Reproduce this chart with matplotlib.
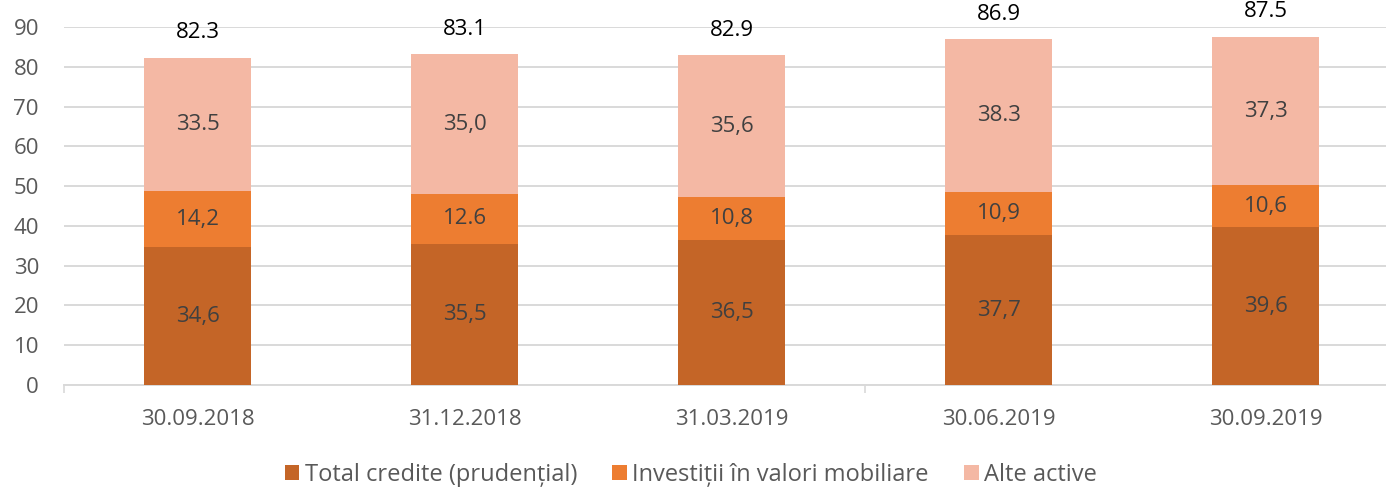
import matplotlib.pyplot as plt
import numpy as np

# datele din grafic
perioade = ["30.09.2018", "31.12.2018", "31.03.2019", "30.06.2019", "30.09.2019"]
credite = [34.6, 35.5, 36.5, 37.7, 39.6]
investitii = [14.2, 12.6, 10.8, 10.9, 10.6]
alte_active = [33.5, 35.0, 35.6, 38.3, 37.3]
total = [82.3, 83.1, 82.9, 86.9, 87.5]

# etichetele asa cum apar in original (separatori amestecati)
et_credite = ["34,6", "35,5", "36,5", "37,7", "39,6"]
et_investitii = ["14,2", "12.6", "10,8", "10,9", "10,6"]
et_alte = ["33.5", "35,0", "35,6", "38.3", "37,3"]
et_total = ["82.3", "83.1", "82.9", "86.9", "87.5"]

serii = ["Total credite (prudențial)", "Investiții în valori mobiliare", "Alte active"]
culori = ["#C46527", "#ED7D31", "#F4B8A4"]

plt.rcParams['font.family'] = ['Open Sans', 'DejaVu Sans']

fig = plt.figure(figsize=(13.86, 4.88), dpi=100)
ax = fig.add_axes([64 / 1386, 1 - 385 / 488, (1386 - 64) / 1386, (385 - 27) / 488])

x = np.arange(len(perioade))
w = 0.4
jos = np.zeros(len(perioade))
for vals, etich, culoare, nume in zip([credite, investitii, alte_active],
                                      [et_credite, et_investitii, et_alte], culori, serii):
    bare = ax.bar(x, vals, w, bottom=jos, color=culoare, label=nume, zorder=3)
    ax.bar_label(bare, labels=etich, label_type="center", color="#404040", fontsize=16)
    jos += np.array(vals)

for xi, t, e in zip(x, total, et_total):
    ax.annotate(e, (xi, t), xytext=(0, 18), textcoords="offset points",
                ha="center", va="center", fontsize=16, color="black")

ax.set_xlim(-0.5, 4.45)
ax.set_ylim(0, 90)
ax.set_yticks(range(0, 91, 10))
ax.set_xticks(x)
ax.set_xticklabels(perioade)
# semne pe axa doar la fiecare trei categorii, ca in original
ax.set_xticks([-0.5, 2.5], minor=True)
ax.tick_params(axis="x", which="major", length=0, pad=17, labelsize=16, labelcolor="#595959")
ax.tick_params(axis="x", which="minor", length=6, color="#D9D9D9", width=1.2)
ax.tick_params(axis="y", length=0, pad=18, labelsize=16, labelcolor="#595959")
ax.grid(axis="y", color="#D9D9D9", linewidth=1.4, zorder=0)
for s in ["top", "right", "left"]:
    ax.spines[s].set_visible(False)
ax.spines["bottom"].set_color("#D9D9D9")
ax.spines["bottom"].set_linewidth(1.4)

fig.legend(loc="center", bbox_to_anchor=(0.4985, 1 - 475 / 488), ncol=3, frameon=False,
           fontsize=17, handlelength=0.6, handleheight=0.6, handletextpad=0.25,
           columnspacing=1.5, labelcolor="#595959")

fig.savefig("out.png", dpi=100)
